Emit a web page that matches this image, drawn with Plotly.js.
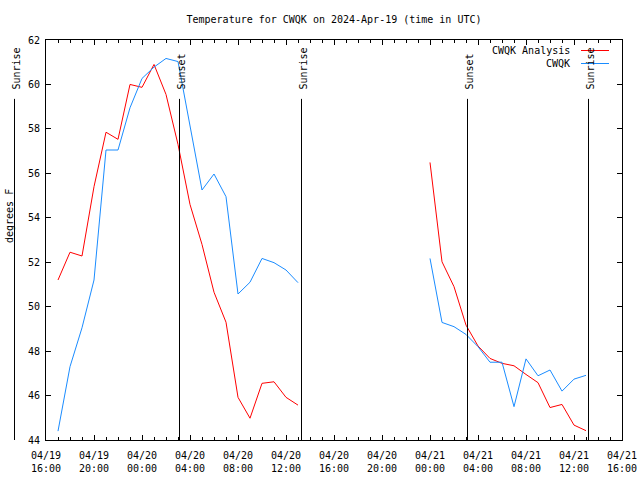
<!DOCTYPE html>
<html>
<head>
<meta charset="utf-8">
<script src="https://cdn.plot.ly/plotly-3.0.1.min.js"></script>
<style>html,body{margin:0;padding:0;background:#fff;}#chart{width:640px;height:480px;}</style>
</head>
<body>
<div id="chart"></div>
<script>
// Hourly times (UTC)
const times = [
  '2024-04-19 17:00','2024-04-19 18:00','2024-04-19 19:00','2024-04-19 20:00','2024-04-19 21:00',
  '2024-04-19 22:00','2024-04-19 23:00','2024-04-20 00:00','2024-04-20 01:00','2024-04-20 02:00',
  '2024-04-20 03:00','2024-04-20 04:00','2024-04-20 05:00','2024-04-20 06:00','2024-04-20 07:00',
  '2024-04-20 08:00','2024-04-20 09:00','2024-04-20 10:00','2024-04-20 11:00','2024-04-20 12:00',
  '2024-04-20 13:00','2024-04-20 14:00',
  '2024-04-21 00:00','2024-04-21 01:00','2024-04-21 02:00','2024-04-21 03:00','2024-04-21 04:00',
  '2024-04-21 05:00','2024-04-21 06:00','2024-04-21 07:00','2024-04-21 08:00','2024-04-21 09:00',
  '2024-04-21 10:00','2024-04-21 11:00','2024-04-21 12:00','2024-04-21 13:00'
];
// CWQK Analysis (red); null = gap
const analysis = [
  51.2, 52.45, 52.28, 55.4, 57.85, 57.53, 60.0, 59.87, 60.9, 59.55,
  57.3, 54.6, 52.8, 50.65, 49.3, 45.92, 44.98, 46.55, 46.62, 45.92,
  45.57, null,
  56.49, 52.02, 50.9, 49.17, 48.23, 47.67, 47.45, 47.34, 46.95, 46.58,
  45.46, 45.6, 44.67, 44.42
];
// CWQK observations (blue)
const observed = [
  44.4, 47.3, 49.05, 51.2, 57.05, 57.05, 58.95, 60.27, 60.78, 61.17,
  61.03, 58.15, 55.25, 55.97, 54.95, 50.57, 51.1, 52.17, 51.98, 51.65,
  51.08, null,
  52.17, 49.29, 49.1, 48.75, 48.2, 47.5, 47.5, 45.5, 47.65, 46.89,
  47.15, 46.2, 46.74, 46.91
];
const seriesNames = ['CWQK Analysis', 'CWQK'];
const seriesColors = ['#ff0000', '#1a8cff'];
const sunEvents = [
  {t: '2024-04-19 13:20', label: 'Sunrise'},
  {t: '2024-04-20 03:05', label: 'Sunset'},
  {t: '2024-04-20 13:15', label: 'Sunrise'},
  {t: '2024-04-21 03:05', label: 'Sunset'},
  {t: '2024-04-21 13:10', label: 'Sunrise'}
];
const xRange = ['2024-04-19 16:00', '2024-04-21 16:00'];
const yRange = [44, 62];

const FONT = 'DejaVu Sans Mono, Liberation Mono, monospace';
const W = 640, H = 480, L = 46, R = 18, T = 40, B = 40;
const pw = W - L - R, ph = H - T - B;
const toMs = s => Date.parse(s.replace(' ', 'T') + ':00Z');
const xf = s => (toMs(s) - toMs(xRange[0])) / (toMs(xRange[1]) - toMs(xRange[0]));
const yf = v => (v - yRange[0]) / (yRange[1] - yRange[0]);
const pxX = px => (px - L) / pw;
const pxY = py => (H - B - py) / ph;

const traces = [analysis, observed].map((vals, i) => ({
  x: times, y: vals, type: 'scatter', mode: 'lines', name: seriesNames[i],
  line: {color: seriesColors[i], width: 1}, connectgaps: false, showlegend: false
}));

const shapes = [];
const annotations = [];
sunEvents.forEach(ev => {
  const fx = xf(ev.t) + 0.5 / pw;
  shapes.push({type: 'line', xref: 'paper', yref: 'paper', x0: fx, x1: fx,
    y0: 0, y1: yf(59.35), line: {color: '#000', width: 1}});
  annotations.push({xref: 'paper', yref: 'paper', x: fx + 1 / pw, y: yf(59.66),
    text: ev.label, textangle: -90, showarrow: false, xanchor: 'center', yanchor: 'bottom',
    font: {family: FONT, size: 10, color: '#000'}});
});
// legend (gnuplot style: text then sample line)
seriesNames.forEach((name, i) => {
  const py = 50.5 + i * 13;
  annotations.push({xref: 'paper', yref: 'paper', x: pxX(572), y: pxY(py), text: name,
    showarrow: false, xanchor: 'right', yanchor: 'middle',
    font: {family: FONT, size: 10, color: '#000'}});
  shapes.push({type: 'line', xref: 'paper', yref: 'paper', x0: pxX(581), x1: pxX(609),
    y0: pxY(py), y1: pxY(py), line: {color: seriesColors[i], width: 1}});
});
// y-axis title
annotations.push({xref: 'paper', yref: 'paper', x: pxX(10), y: pxY(216), text: 'degrees F',
  textangle: -90, showarrow: false, xanchor: 'center', yanchor: 'middle',
  font: {family: FONT, size: 10, color: '#000'}});

const layout = {
  width: W, height: H,
  margin: {l: L, r: R, t: T, b: B, pad: 0},
  paper_bgcolor: '#fff', plot_bgcolor: '#fff',
  font: {family: FONT, size: 10, color: '#000'},
  title: {text: 'Temperature for CWQK on 2024-Apr-19 (time in UTC)', x: 0.5, xref: 'paper', xanchor: 'center',
    y: 1 - 19 / H, yanchor: 'middle', yref: 'container', font: {family: FONT, size: 10, color: '#000'}},
  xaxis: {
    type: 'date', range: xRange, dtick: 4 * 3600000, tick0: xRange[0],
    tickformat: '%m/%d<br>%H:%M', ticks: 'inside', ticklen: 5, tickcolor: '#000',
    ticklabelstandoff: 6,
    showline: true, linecolor: '#000', linewidth: 1, mirror: 'ticks',
    showgrid: false, zeroline: false, tickfont: {family: FONT, size: 10, color: '#000'},
    minor: {dtick: 3600000, tick0: xRange[0], ticks: 'inside', ticklen: 3, tickcolor: '#000', showgrid: false}
  },
  yaxis: {
    range: yRange, dtick: 2, ticks: 'inside', ticklen: 5, tickcolor: '#000',
    ticklabelstandoff: 3,
    showline: true, linecolor: '#000', linewidth: 1, mirror: 'ticks',
    showgrid: false, zeroline: false, tickfont: {family: FONT, size: 10, color: '#000'}
  },
  shapes: shapes,
  annotations: annotations,
  showlegend: false
};

Plotly.newPlot('chart', traces, layout, {displayModeBar: false, staticPlot: true});
</script>
</body>
</html>
